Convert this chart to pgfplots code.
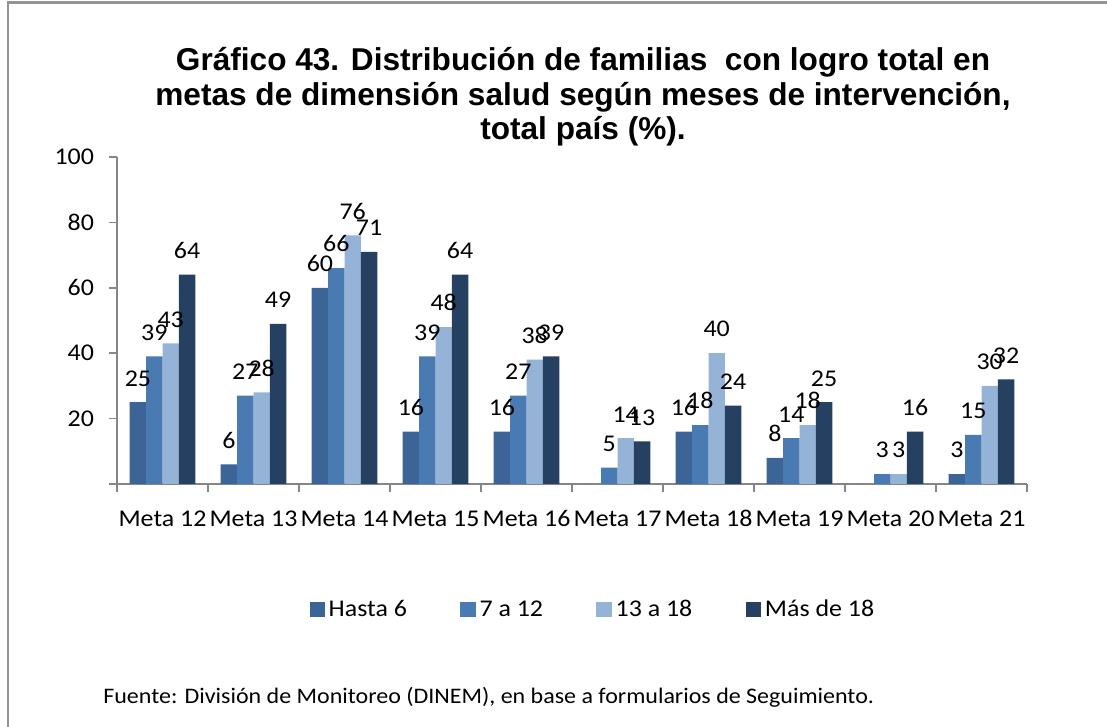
\documentclass[border=0pt]{standalone}
\usepackage{pgfplots}
\pgfplotsset{compat=1.18}
\usepackage{fontspec}
\setmainfont[FakeStretch=1.08,Numbers=Lining]{Carlito}
\newfontfamily\titlefont{Liberation Sans}
\definecolor{cA}{HTML}{3C6496}
\definecolor{cB}{HTML}{4A7AB2}
\definecolor{cC}{HTML}{95B3D7}
\definecolor{cD}{HTML}{264062}
\definecolor{axgray}{HTML}{868686}
\begin{document}
\begin{tikzpicture}
\path[use as bounding box] (0pt,0pt) rectangle (553.5pt,363.5pt);
\draw[color=gray!85, line width=1.2pt] (4pt,0pt) -- (4pt,362.3pt) -- (553.5pt,362.3pt);
\node[font=\titlefont\bfseries\fontsize{15.8}{17.2}\selectfont, align=center] at (291.5pt,315pt)
 {Gráfico 43. Distribución de familias\ \ con logro total en\\metas de dimensión salud según meses de intervención,\\total país (\%).};
\node[font=\fontsize{11.1}{14}\selectfont, anchor=west, inner sep=0pt] at (51.5pt,15pt)
 {Fuente: División de Monitoreo (DINEM), en base a formularios de Seguimiento.};
\begin{axis}[
  at={(58.5pt,121.5pt)}, anchor=south west,
  scale only axis, width=455pt, height=163.5pt,
  ybar=0pt, bar width=8.2pt,
  xmin=-0.5, xmax=9.5, ymin=0, ymax=100,
  axis lines*=left,
  axis line style={axgray, line width=0.8pt},
  xtick={0,...,9},
  xticklabels={Meta 12,Meta 13,Meta 14,Meta 15,Meta 16,Meta 17,Meta 18,Meta 19,Meta 20,Meta 21},
  minor xtick={-0.5,0.5,...,9.5},
  major x tick style={draw=none},
  minor tick length=4pt,
  major tick length=4pt,
  tick align=outside,
  tick style={axgray, line width=0.8pt},
  ytick={20,40,60,80,100},
  extra y ticks={0}, extra y tick labels={},
  font=\fontsize{12}{14}\selectfont,
  ticklabel style={font=\fontsize{12}{14}\selectfont},
  /pgf/number format/assume math mode=true,
  xticklabel style={yshift=-6pt, text height=1.6ex, text depth=0.3ex},
  yticklabel style={xshift=-4pt},
  nodes near coords,
  every node near coord/.append style={font=\fontsize{12}{14}\selectfont, black, yshift=4.5pt},
  legend style={at={(0.524,-0.385)}, anchor=center, draw=none, legend columns=-1,
    font=\fontsize{12}{14}\selectfont,
    /tikz/every even column/.append style={column sep=24.7pt}},
  legend image code/.code={\fill[#1] (0pt,-3.8pt) rectangle (7.6pt,3.8pt);},
  clip=false,
]
\addplot[fill=cA, draw=none] coordinates {(0,25) (1,6) (2,60) (3,16) (4,16) (6,16) (7,8) (9,3)};
\addplot[fill=cB, draw=none] coordinates {(0,39) (1,27) (2,66) (3,39) (4,27) (5,5) (6,18) (7,14) (8,3) (9,15)};
\addplot[fill=cC, draw=none] coordinates {(0,43) (1,28) (2,76) (3,48) (4,38) (5,14) (6,40) (7,18) (8,3) (9,30)};
\addplot[fill=cD, draw=none] coordinates {(0,64) (1,49) (2,71) (3,64) (4,39) (5,13) (6,24) (7,25) (8,16) (9,32)};
\legend{Hasta 6, 7 a 12, 13 a 18, Más de 18}
\end{axis}
\end{tikzpicture}
\end{document}
